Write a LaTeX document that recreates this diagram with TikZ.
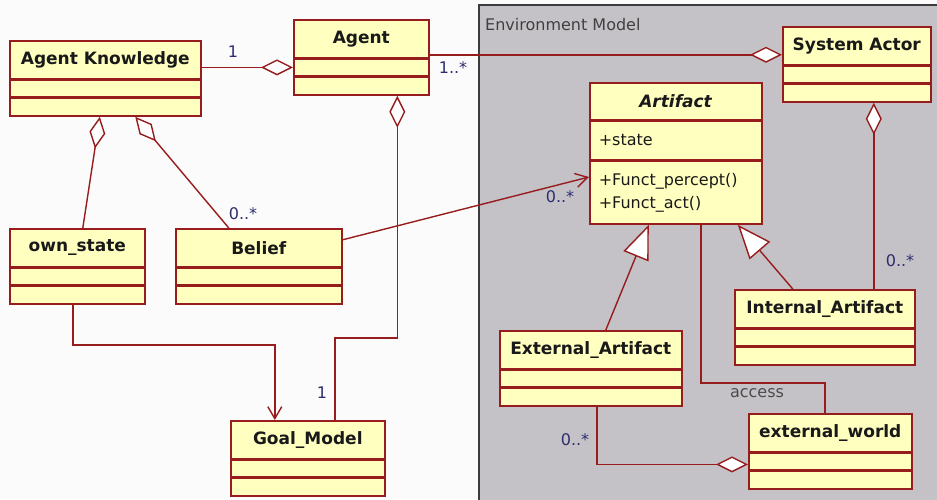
\documentclass[tikz,border=0pt]{standalone}
\usepackage{fontspec}
\setmainfont{DejaVu Sans}
\usetikzlibrary{positioning,arrows.meta}

\definecolor{umlfill}{RGB}{255,255,192}
\definecolor{umlline}{RGB}{150,28,30}
\definecolor{envgray}{RGB}{196,194,198}
\definecolor{envedge}{RGB}{60,60,60}
\definecolor{paper}{RGB}{250,251,250}
\definecolor{multcol}{RGB}{45,45,110}

\begin{document}
\begin{tikzpicture}[
	x=1pt, y=-1pt,
	classhead/.style={rectangle, draw=umlline, fill=umlfill, line width=1.6pt, inner sep=0pt, minimum height=38pt, anchor=north west, font=\fontsize{17}{20}\selectfont\bfseries, text=black!90},
	compart/.style={rectangle, draw=umlline, fill=umlfill, line width=1.6pt, inner sep=0pt, minimum height=16pt},
	members/.style={compart, inner xsep=9pt, text width=154pt, align=left, font=\fontsize{16}{23}\selectfont, text=black!90},
	conn/.style={draw=umlline, line width=1.4pt},
	aggr/.style={conn, -{Diamond[fill=white, length=32pt, width=16pt]}},
	nav/.style={conn, -{Straight Barb[length=12pt, width=14pt]}},
	inherit/.style={conn, -{Triangle[fill=white, length=34pt, width=27pt]}},
	mult/.style={font=\fontsize{16}{18}\selectfont, text=multcol, inner sep=0pt}
]
% page and environment panel
\useasboundingbox (0,0) rectangle (937,499);
\fill[paper] (0,0) rectangle (937,499);
\fill[envgray] (479,5) rectangle (950,510);
\draw[envedge, line width=1.5pt] (950,5) -- (479,5) -- (479,510);
\node[anchor=west, inner sep=0pt, font=\fontsize{16}{18}\selectfont, text=black!75] (envname) at (485,25) {Environment Model};

% agent side
\node[classhead, minimum width=191pt] (knowledge) at (9,40) {Agent Knowledge};
\node[compart, minimum width=191pt, below=0pt of knowledge] (knowledge-a) {};
\node[compart, minimum width=191pt, minimum height=18pt, below=0pt of knowledge-a] (knowledge-o) {};

\node[classhead, minimum width=135pt] (agent) at (293,19) {Agent};
\node[compart, minimum width=135pt, below=0pt of agent] (agent-a) {};
\node[compart, minimum width=135pt, minimum height=18pt, below=0pt of agent-a] (agent-o) {};

\node[classhead, minimum width=135pt] (own) at (9,228) {own\_state};
\node[compart, minimum width=135pt, below=0pt of own] (own-a) {};
\node[compart, minimum width=135pt, minimum height=18pt, below=0pt of own-a] (own-o) {};

\node[classhead, minimum width=166pt] (belief) at (175,228) {Belief};
\node[compart, minimum width=166pt, below=0pt of belief] (belief-a) {};
\node[compart, minimum width=166pt, minimum height=18pt, below=0pt of belief-a] (belief-o) {};

\node[classhead, minimum width=154pt] (goal) at (230,420) {Goal\_Model};
\node[compart, minimum width=154pt, below=0pt of goal] (goal-a) {};
\node[compart, minimum width=154pt, minimum height=18pt, below=0pt of goal-a] (goal-o) {};

% environment side
\node[classhead, minimum width=148pt] (sysactor) at (782,26) {System Actor};
\node[compart, minimum width=148pt, below=0pt of sysactor] (sysactor-a) {};
\node[compart, minimum width=148pt, minimum height=18pt, below=0pt of sysactor-a] (sysactor-o) {};

\node[classhead, minimum width=172pt, minimum height=37pt] (artifact) at (589,82) {\textit{Artifact}};
\node[members, minimum height=38pt, below=0pt of artifact] (artifact-a) {+state};
\node[members, minimum height=63pt, below=0pt of artifact-a] (artifact-o) {+Funct\_percept()\\+Funct\_act()};

\node[classhead, minimum width=180pt] (internal) at (734,289) {Internal\_Artifact};
\node[compart, minimum width=180pt, below=0pt of internal] (internal-a) {};
\node[compart, minimum width=180pt, minimum height=18pt, below=0pt of internal-a] (internal-o) {};

\node[classhead, minimum width=182pt] (external) at (499,330) {External\_Artifact};
\node[compart, minimum width=182pt, below=0pt of external] (external-a) {};
\node[compart, minimum width=182pt, minimum height=18pt, below=0pt of external-a] (external-o) {};

\node[classhead, minimum width=163pt] (world) at (748,413) {external\_world};
\node[compart, minimum width=163pt, below=0pt of world] (world-a) {};
\node[compart, minimum width=163pt, minimum height=18pt, below=0pt of world-a] (world-o) {};

% connectors
\draw[aggr] (knowledge.east |- agent-a.west) -- (agent-a.west);
\coordinate (sa-in) at ([yshift=-9pt]sysactor.west);
\draw[aggr] (agent.east |- sa-in) -- (sa-in);
\draw[aggr] ([xshift=27pt]goal.north) -- ++(0,-82) -| ([xshift=36pt]agent-o.south);
\draw[aggr] ([xshift=5.5pt]own.north) -- ([xshift=-5.5pt]knowledge-o.south);
\draw[aggr] ([xshift=-30pt]belief.north) -- ([xshift=30pt]knowledge-o.south);
\draw[nav] ([yshift=8pt]belief.east) -- ([yshift=15.5pt]artifact-o.west);
\draw[nav] ([xshift=-4.5pt]own-o.south) -- ++(0,40) -| ([xshift=-33pt]goal.north);
\draw[aggr] ([xshift=49pt]internal.north) -- ([xshift=17pt]sysactor-o.south);
\draw[inherit] ([xshift=15pt]external.north) -- ([xshift=-27pt]artifact-o.south);
\draw[inherit] ([xshift=-32pt]internal.north) -- ([xshift=62pt]artifact-o.south);
\draw[conn] ([xshift=25pt]artifact-o.south) -- ++(0,158) -| ([xshift=-5.5pt]world.north);
\draw[aggr] ([xshift=6pt]external-o.south) |- ([yshift=-3pt]world-a.west);

% multiplicities and role names
\node[mult] (m-know) at (233,52) {1};
\node[mult] (m-agent) at (453,68) {1..*};
\node[mult] (m-belief) at (243,214) {0..*};
\node[mult] (m-goal) at (322,393) {1};
\node[mult] (m-artifact) at (560,197) {0..*};
\node[mult] (m-internal) at (900,261) {0..*};
\node[mult, text=black!70] (m-access) at (757,393) {access};
\node[mult] (m-external) at (575,440) {0..*};
\end{tikzpicture}
\end{document}
